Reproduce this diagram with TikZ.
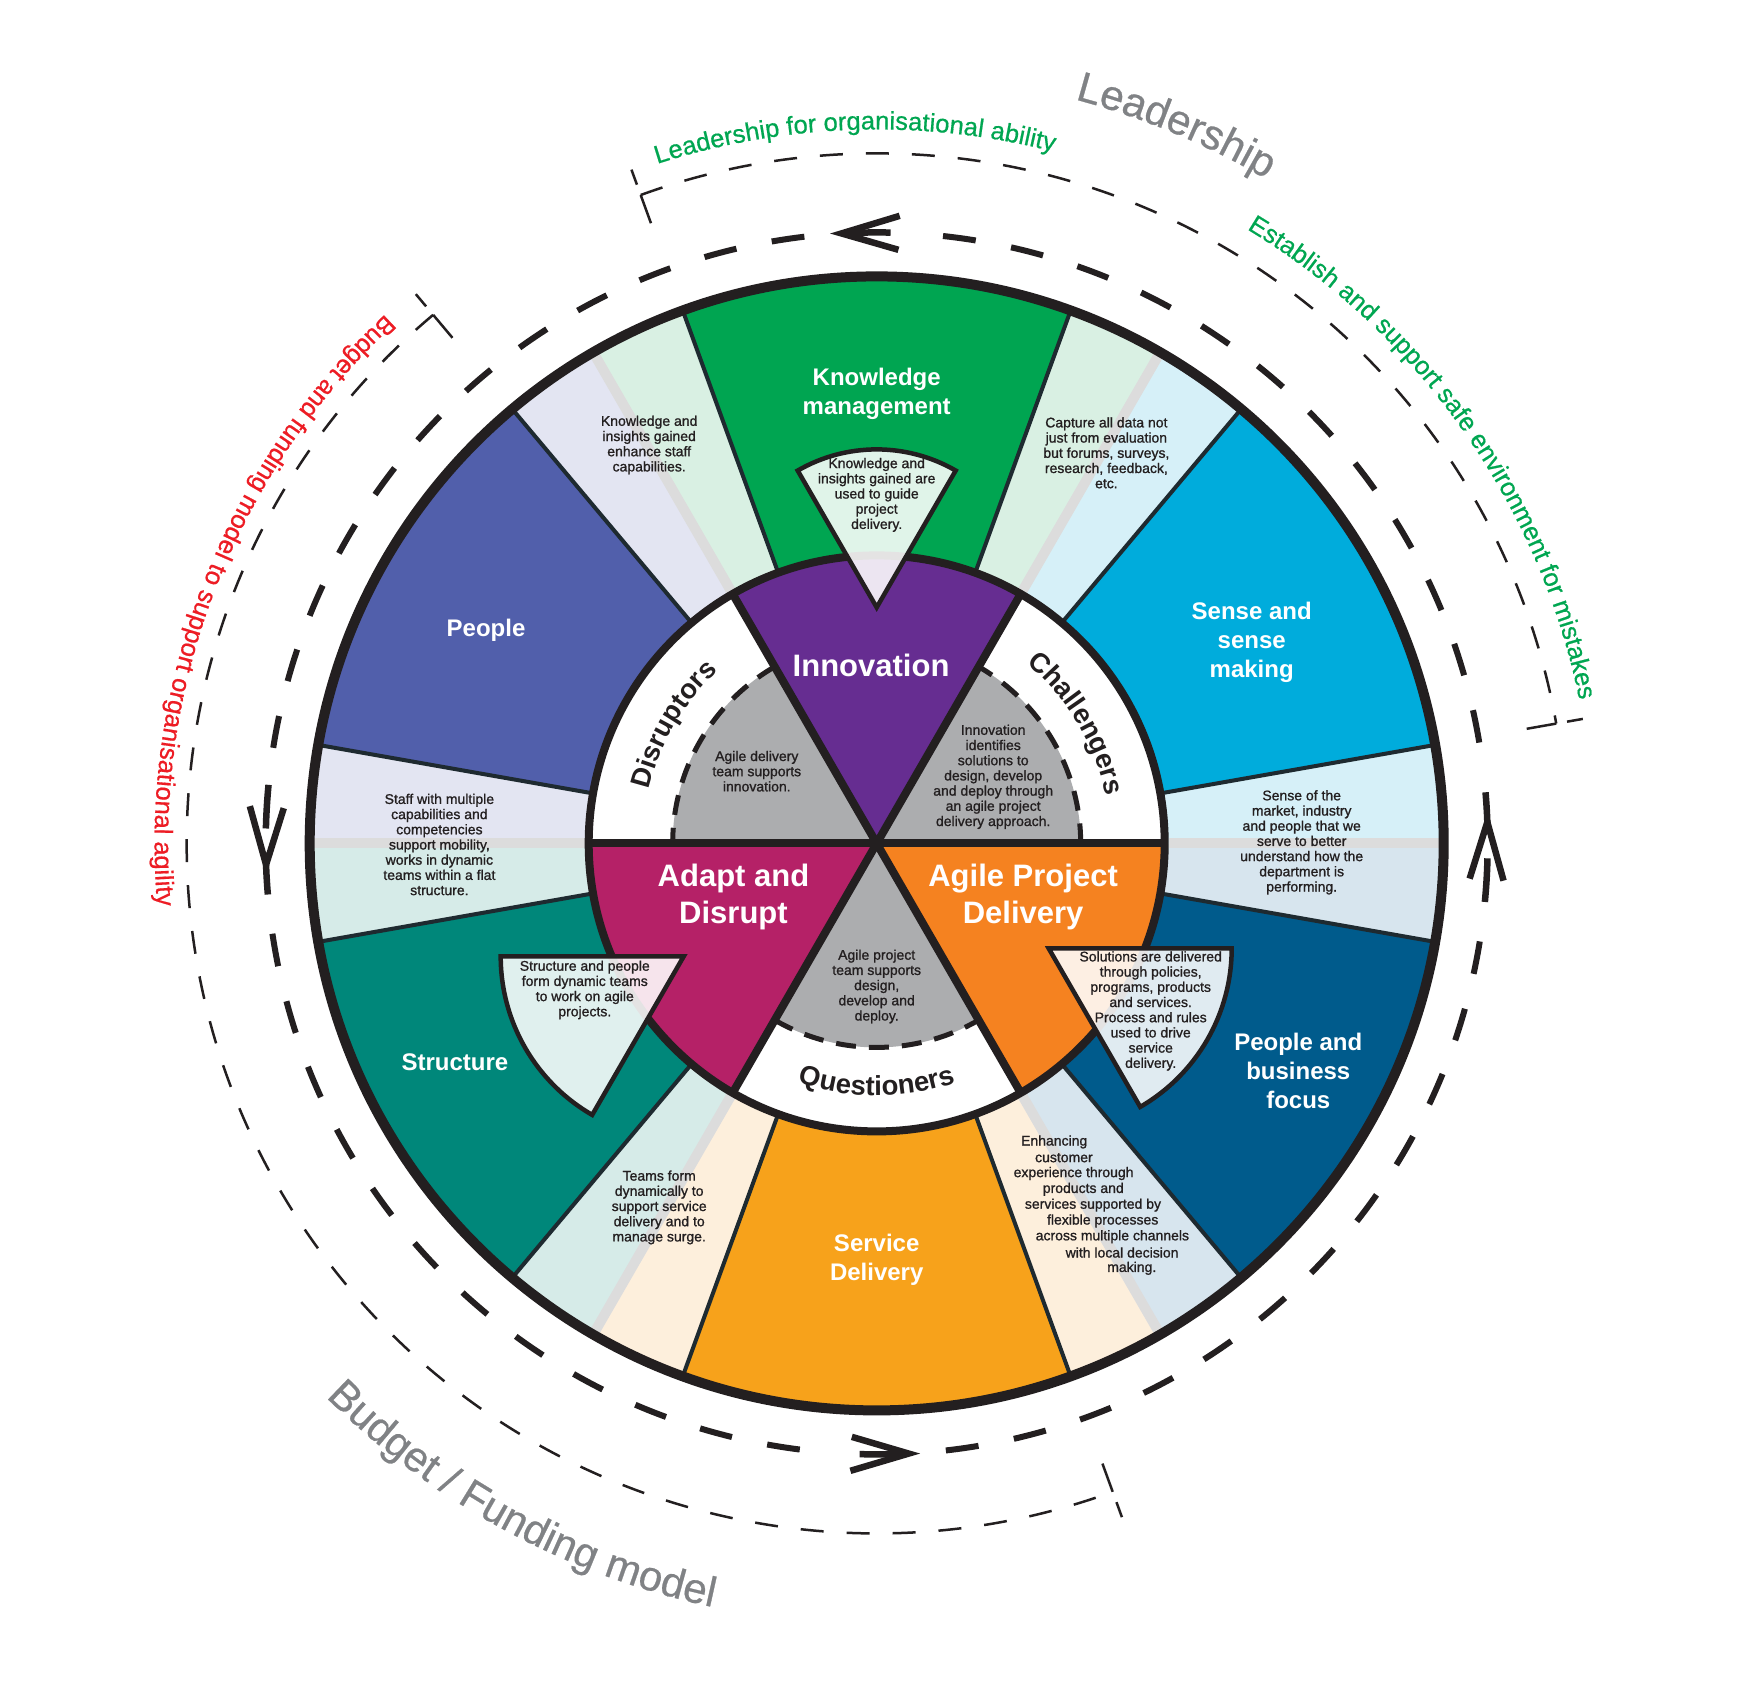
\documentclass[tikz,border=0pt]{standalone}
\usepackage{fontspec}
\setmainfont{Liberation Sans}
\newfontfamily\notefont[FakeBold=1.1]{Liberation Sans}
\newfontfamily\capfont[FakeBold=0.6]{Liberation Sans}
\usetikzlibrary{decorations.text}

\definecolor{ink}{HTML}{231F20}
\definecolor{edgeline}{HTML}{1E2A30}
\definecolor{kgreen}{HTML}{00A551}
\definecolor{pblue}{HTML}{515FAB}
\definecolor{steal}{HTML}{00877A}
\definecolor{sorange}{HTML}{F7A21B}
\definecolor{dblue}{HTML}{005B8C}
\definecolor{scyan}{HTML}{00ACDC}
\definecolor{ipurple}{HTML}{662D91}
\definecolor{amagenta}{HTML}{B52167}
\definecolor{aorange}{HTML}{F58220}
\definecolor{hubgray}{HTML}{ACADAF}
\definecolor{lgreen}{HTML}{D9F0E3}
\definecolor{llav}{HTML}{E3E5F2}
\definecolor{lteal}{HTML}{D6EBE8}
\definecolor{lpeach}{HTML}{FDEFDC}
\definecolor{lsteel}{HTML}{D7E5EE}
\definecolor{lcyan}{HTML}{D6F0F8}
\definecolor{stripe}{HTML}{DCDCDC}
\definecolor{lgray}{HTML}{808285}
\definecolor{tgreen}{HTML}{00A651}
\definecolor{tred}{HTML}{ED1C24}

\tikzset{
  smallnote/.style={text=ink, align=center, inner sep=0pt, font=\notefont\fontsize{14}{15.2}\selectfont},
  hublabel/.style={text=white, align=center, inner sep=0pt, font=\fontsize{31}{37}\selectfont\bfseries},
  seglabel/.style={text=white, align=center, inner sep=0pt, font=\fontsize{24}{29}\selectfont\bfseries},
  wedgebox/.style={fill=white, fill opacity=0.88, draw=ink, line width=4.5pt},
  flowdash/.style={draw=ink, line width=6pt, dash pattern=on 33pt off 36pt},
  flowhead/.style={draw=ink, line width=6.5pt},
  scopedash/.style={draw=ink, line width=2.5pt, dash pattern=on 23pt off 23pt},
  scopetick/.style={draw=ink, line width=2.5pt},
  grayedge/.style={draw=ink, line width=5pt, dash pattern=on 20pt off 13pt},
  sectoredge/.style={draw=edgeline, line width=4pt},
  heavyline/.style={draw=ink, line width=8pt},
}

\begin{document}
\begin{tikzpicture}[x=1pt,y=1pt]
\useasboundingbox (-876.7,-857.6) rectangle (863.3,843.4);
\fill[white] (-876.7,-857.6) rectangle (863.3,843.4);

% outer ring: light bands and coloured segments
\foreach \a/\b/\c in {110/120/lgreen,120/130/llav,170/180/llav,180/190/lteal,
                      230/240/lteal,240/250/lpeach,290/300/lpeach,300/310/lsteel,
                      350/360/lsteel,0/10/lcyan,50/60/lcyan,60/70/lgreen,
                      70/110/kgreen,130/170/pblue,190/230/steal,250/290/sorange,
                      310/350/dblue,10/50/scyan}
  \fill[\c] (\a:288) -- (\a:567) arc[start angle=\a,end angle=\b,radius=567]
            -- (\b:288) arc[start angle=\b,end angle=\a,radius=288] -- cycle;

% grey stripes through the light bands
\foreach \a in {0,60,...,300}
  \draw[stripe, line width=10pt] (\a:292) -- (\a:563);

% edges of the coloured segments
\foreach \a in {10,50,70,110,130,170,190,230,250,290,310,350}
  \draw[sectoredge] (\a:288) -- (\a:567);

% hub
\fill[white] (0,0) circle[radius=288];
\fill[ipurple] (0,0) -- (60:288) arc[start angle=60,end angle=120,radius=288] -- cycle;
\fill[amagenta] (0,0) -- (180:288) arc[start angle=180,end angle=240,radius=288] -- cycle;
\fill[aorange] (0,0) -- (300:288) arc[start angle=300,end angle=360,radius=288] -- cycle;
\foreach \a in {0,120,240}{
  \fill[hubgray] (0,0) -- (\a:204) arc[start angle=\a,end angle=\a+60,radius=204] -- cycle;
  \draw[grayedge] (\a:204) arc[start angle=\a,end angle=\a+60,radius=204];
}
\foreach \a in {0,60,120}
  \draw[heavyline] (\a:288) -- (\a+180:288);
\draw[heavyline] (0,0) circle[radius=288];
\draw[ink, line width=10pt] (0,0) circle[radius=567];

% callout wedges
\draw[wedgebox] (0,236) -- ++(60:158) arc[start angle=60,end angle=120,radius=158] -- cycle;
\draw[wedgebox] (-193,-113) -- ++(180:183) arc[start angle=180,end angle=240,radius=183] -- cycle;
\draw[wedgebox] (172,-105) -- ++(0:183) arc[start angle=0,end angle=-60,radius=183] -- cycle;

% circulating flow (thick dashed ring with heads)
\draw[flowdash] (9.5:611) arc[start angle=9.5,end angle=85,radius=611];
\draw[flowdash] (96.8:611) arc[start angle=96.8,end angle=171,radius=611];
\draw[flowdash] (188.5:611) arc[start angle=188.5,end angle=264.5,radius=611];
\draw[flowdash] (276.5:611) arc[start angle=276.5,end angle=351,radius=611];
\foreach \t in {93.3,273}{
  \draw[flowhead] ({\t-5.4}:628) -- (\t:611) -- ({\t-5.4}:594);
  \draw[flowhead] (\t:611) arc[start angle=\t,end angle=\t-4.6,radius=611];
}
\foreach \t in {182,2}{
  \draw[flowhead] ({\t-5.4}:628) -- (\t:611) -- ({\t-5.4}:594);
  \draw[flowhead] (\t:611) arc[start angle=\t,end angle=\t+2.8,radius=611];
  \draw[flowhead] ({\t-3.4}:611) arc[start angle=\t-3.4,end angle=\t-7.5,radius=611];
}

% thin scope arcs with end brackets
\draw[scopedash] (110:690) arc[start angle=110,end angle=10,radius=690];
\draw[scopedash] (130:690) arc[start angle=130,end angle=290,radius=690];
\foreach \e in {110,10,130,290}{
  \draw[scopetick] (\e:690) -- (\e:660);
  \draw[scopetick] (\e:701) -- (\e:717);
}

% curved captions
\path[decorate, decoration={text along path, text align=center, text color=tgreen,
  text={|\capfont\fontsize{25.5}{30}\selectfont|Leadership for organisational ability}}]
  (130:714) arc[start angle=130,end angle=53.6,radius=714];
\path[decorate, decoration={text along path, text align=center, text color=tgreen,
  text={|\capfont\fontsize{25.5}{30}\selectfont|Establish and support safe environment for mistakes}}]
  (80:717) arc[start angle=80,end angle=-9.5,radius=717];
\path[decorate, decoration={text along path, text align=center, text color=lgray,
  text={|\capfont\fontsize{42}{50}\selectfont|Leadership}}]
  (100:770) arc[start angle=100,end angle=34.7,radius=770];
\path[decorate, decoration={text along path, text align=center, text color=tred,
  text={|\capfont\fontsize{25.5}{30}\selectfont|Budget and funding model to support organisational agility}}]
  (115:722) arc[start angle=115,end angle=202.8,radius=722];
\path[decorate, decoration={text along path, text align=center, text color=lgray,
  text={|\capfont\fontsize{42}{50}\selectfont|Budget / Funding model}}]
  (205:781) arc[start angle=205,end angle=278,radius=781];

% ring labels in the hub
\path[decorate, decoration={text along path, text align=center, text color=ink,
  text={|\fontsize{27.5}{32}\selectfont\bfseries|Disruptors}}]
  (185:234) arc[start angle=185,end angle=114.4,radius=234];
\path[decorate, decoration={text along path, text align=center, text color=ink,
  text={|\fontsize{27.5}{32}\selectfont\bfseries|Challengers}}]
  (66:234) arc[start angle=66,end angle=-4,radius=234];
\path[decorate, decoration={text along path, text align=center, text color=ink,
  text={|\fontsize{27.5}{32}\selectfont\bfseries|Questioners}}]
  (235:252) arc[start angle=235,end angle=305,radius=252];

% segment titles
\node[hublabel] (innov) at (-5.6,177.6) {Innovation};
\node[hublabel] (adapt) at (-143.2,-53.2) {Adapt and\\Disrupt};
\node[hublabel] (agile) at (146.4,-53.2) {Agile Project\\Delivery};
\node[seglabel] (know) at (0,449.5) {Knowledge\\management};
\node[seglabel] (people) at (-390.7,213.1) {People};
\node[seglabel] (sense) at (375,200.9) {Sense and\\sense\\making};
\node[seglabel] (struct) at (-421.7,-218.6) {Structure};
\node[seglabel] (service) at (0,-416) {Service\\Delivery};
\node[seglabel] (pbf) at (421.6,-227.5) {People and\\business\\focus};

% descriptive notes
\node[smallnote] (kwtxt) at (0,348.5) {Knowledge and\\insights gained are\\used to guide\\project\\delivery.};
\node[smallnote] (kgain) at (-227.5,398.4) {Knowledge and\\insights gained\\enhance staff\\capabilities.};
\node[smallnote] (capture) at (229.7,390.6) {Capture all data not\\just from evaluation\\but forums, surveys,\\research, feedback,\\etc.};
\node[smallnote] (staff) at (-437.3,-1.1) {Staff with multiple\\capabilities and\\competencies\\support mobility,\\works in dynamic\\teams within a flat\\structure.};
\node[smallnote] (senseof) at (425,1.1) {Sense of the\\market, industry\\and people that we\\serve to better\\understand how the\\department is\\performing.};
\node[smallnote] (agdel) at (-119.9,72.2) {Agile delivery\\team supports\\innovation.};
\node[smallnote] (innid) at (116.5,66.6) {Innovation\\identifies\\solutions to\\design, develop\\and deploy through\\an agile project\\delivery approach.};
\node[smallnote] (agproj) at (0,-143.1) {Agile project\\team supports\\design,\\develop and\\deploy.};
\node[smallnote] (strpeople) at (-291.9,-146.5) {Structure and people\\form dynamic teams\\to work on agile\\projects.};
\node[smallnote] (solutions) at (274,-167.6) {Solutions are delivered\\through policies,\\programs, products\\and services.\\Process and rules\\used to drive\\service\\delivery.};
\node[smallnote] (teams) at (-217.5,-364) {Teams form\\dynamically to\\support service\\delivery and to\\manage surge.};
\foreach \txt [count=\i from 0] in {Enhancing,customer,experience through,products and,
    services supported by,flexible processes,across multiple channels,with local decision,making.}
  \node[smallnote] (enh\i) at ({177.5+9.7*\i},{-298.5-15.8*\i}) {\txt};
\end{tikzpicture}
\end{document}
